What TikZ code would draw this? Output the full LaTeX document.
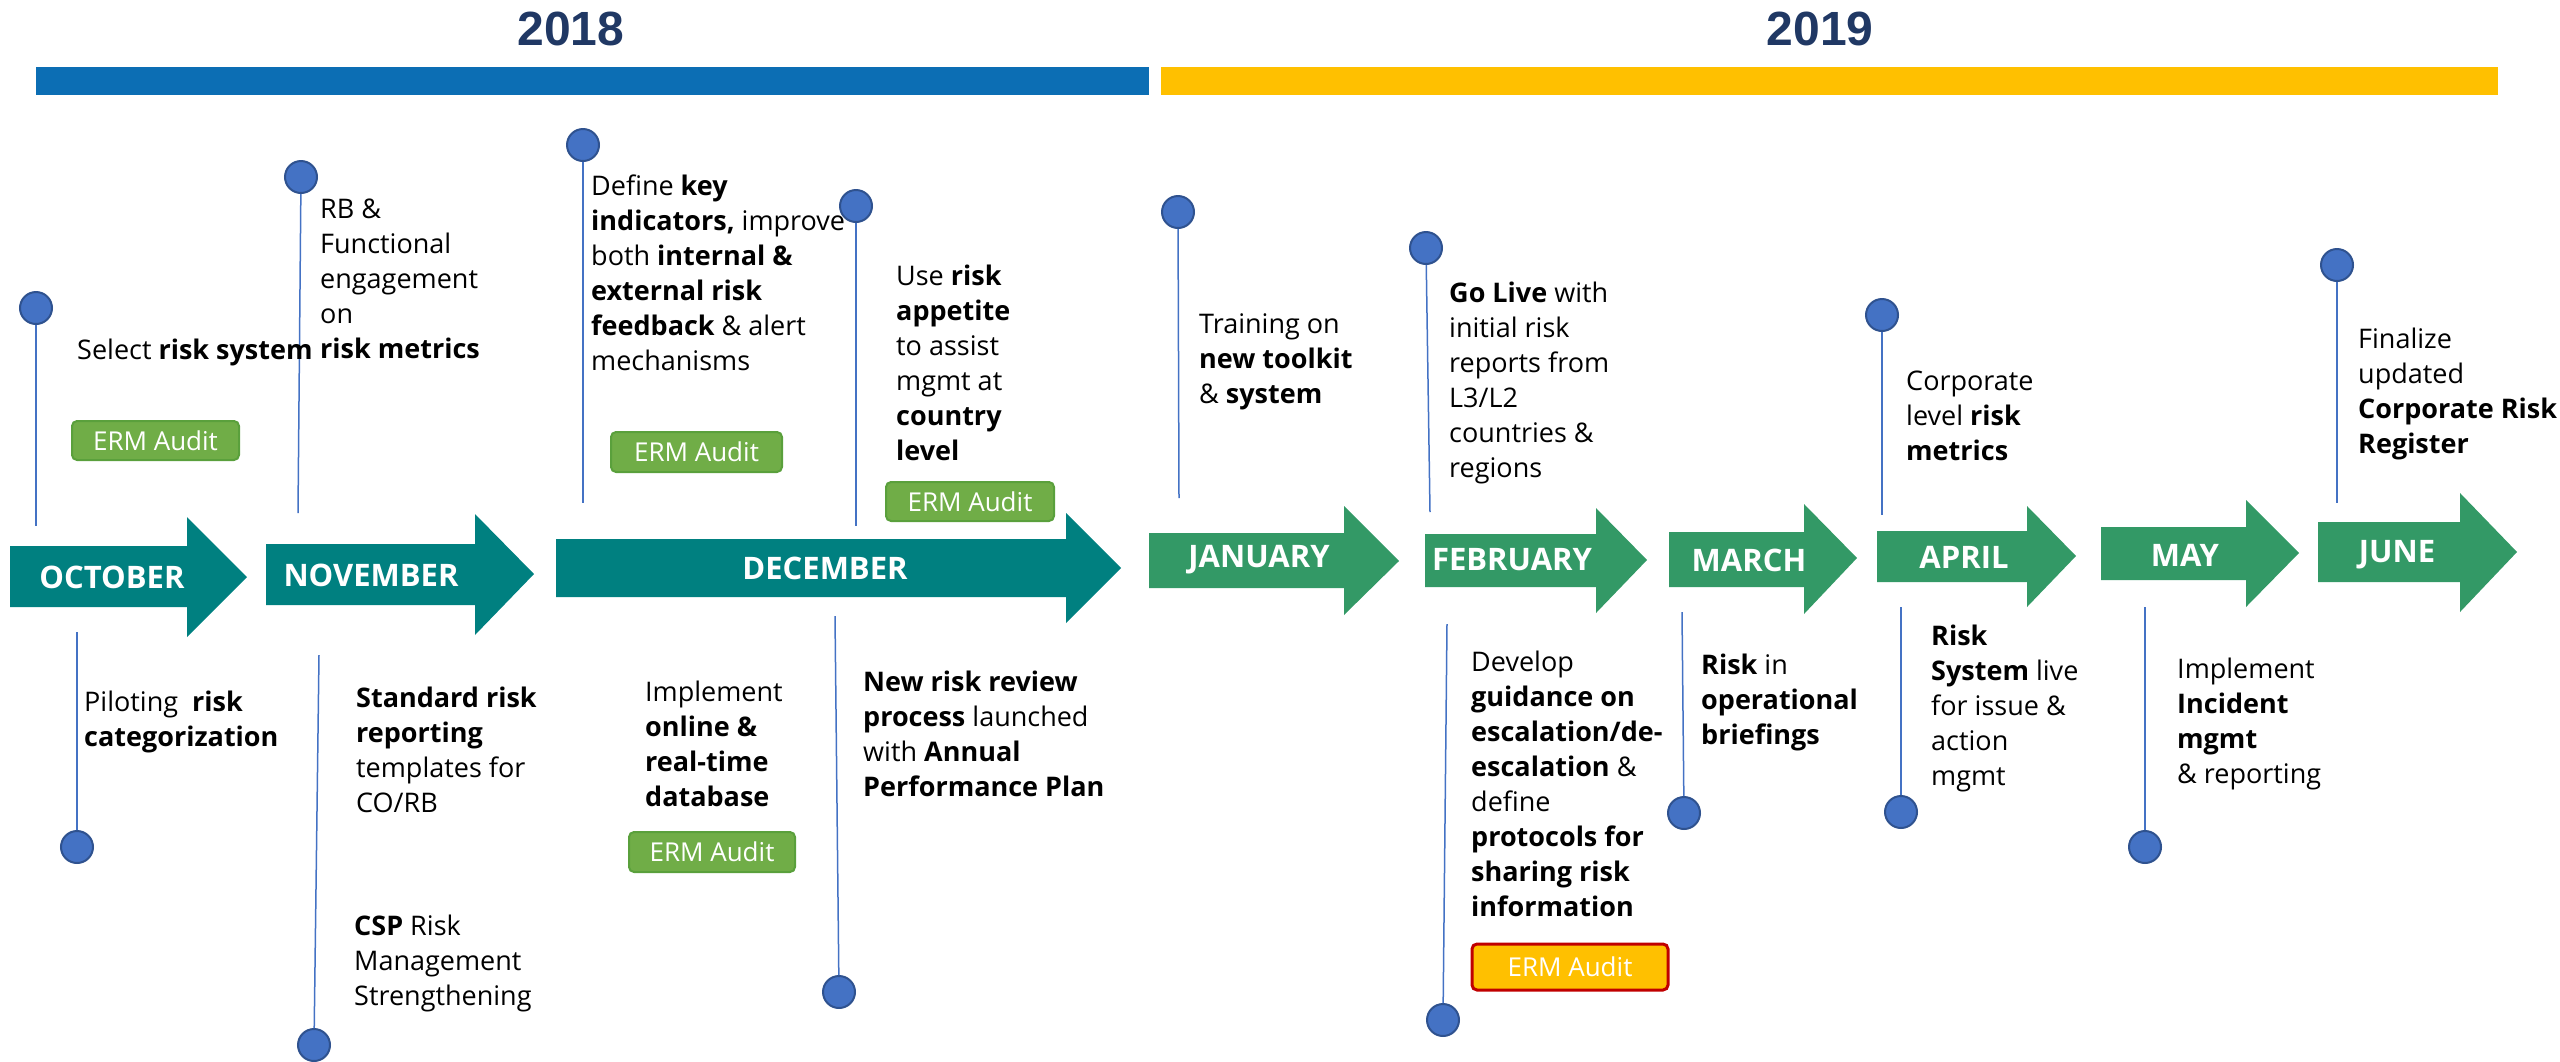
\documentclass[tikz,border=0pt]{standalone}
\usepackage{fontspec}
\setmainfont{Open Sans}
\newfontfamily\yearfont{Liberation Sans}
\definecolor{teal1}{RGB}{0,128,128}
\definecolor{green1}{RGB}{51,153,102}
\definecolor{barblue}{RGB}{12,110,180}
\definecolor{baryellow}{RGB}{255,192,0}
\definecolor{navy}{RGB}{32,56,100}
\definecolor{dotblue}{RGB}{68,114,196}
\definecolor{dotedge}{RGB}{47,82,143}
\definecolor{ermgreen}{RGB}{112,173,71}
\definecolor{ermedge}{RGB}{90,160,60}
\definecolor{ermred}{RGB}{192,0,0}
\begin{document}
\begin{tikzpicture}[x=1pt,y=-1pt,
  txt/.style={anchor=base west, align=left, inner sep=0pt, font=\fontsize{27}{35}\selectfont},
  month/.style={font=\bfseries\fontsize{31}{37}\selectfont, text=white, inner sep=0pt},
  year/.style={font=\yearfont\bfseries\fontsize{48}{56}\selectfont, text=navy, inner sep=0pt},
  erm/.style={rounded corners=5pt, fill=ermgreen, draw=ermedge, line width=2pt, text=white,
    font=\fontsize{26}{30}\selectfont, inner sep=0pt},
  ermy/.style={erm, fill=baryellow, draw=ermred, line width=3pt},
  dot/.style={circle, fill=dotblue, draw=dotedge, line width=2pt, minimum size=32pt, inner sep=0pt},
  conn/.style={draw=dotblue, line width=1.5pt}]
\useasboundingbox (0,0) rectangle (2560,1061);

% year bars and titles
\fill[barblue] (36,67) rectangle (1149,95);
\fill[baryellow] (1161,67) rectangle (2498,95);
\node[year] (y2018) at (571,29) {2018};
\node[year] (y2019) at (1820,29) {2019};

% month arrows
\fill[teal1] (10,546) -- (187,546) -- (187,517) -- (247,577) -- (187,637) -- (187,607) -- (10,607) -- cycle;
\fill[teal1] (266,544) -- (475,544) -- (475,514) -- (534,574) -- (475,635) -- (475,605) -- (266,605) -- cycle;
\fill[teal1] (556,539) -- (1066,539) -- (1066,513) -- (1121,568) -- (1066,623) -- (1066,597) -- (556,597) -- cycle;
\fill[green1] (1149,533) -- (1344,533) -- (1344,506) -- (1399,561) -- (1344,615) -- (1344,588) -- (1149,588) -- cycle;
\fill[green1] (1425,534) -- (1596,534) -- (1596,508) -- (1647,560) -- (1596,613) -- (1596,587) -- (1425,587) -- cycle;
\fill[green1] (1669,532) -- (1804,532) -- (1804,504) -- (1857,558) -- (1804,614) -- (1804,587) -- (1669,587) -- cycle;
\fill[green1] (1877,531) -- (2027,531) -- (2027,506) -- (2076,556) -- (2027,607) -- (2027,582) -- (1877,582) -- cycle;
\fill[green1] (2101,527) -- (2246,527) -- (2246,500) -- (2299,553) -- (2246,607) -- (2246,580) -- (2101,580) -- cycle;
\fill[green1] (2318,522) -- (2460,522) -- (2460,493) -- (2517,552) -- (2460,612) -- (2460,582) -- (2318,582) -- cycle;

\node[month] (moct) at (112,577) {OCTOBER};
\node[month] (mnov) at (371,575) {NOVEMBER};
\node[month] (mdec) at (825,568) {DECEMBER};
\node[month] (mjan) at (1259,560) {JANUARY};
\node[month] (mfeb) at (1512,560) {FEBRUARY};
\node[month] (mmar) at (1749,560) {MARCH};
\node[month] (mapr) at (1964,557) {APRIL};
\node[month] (mmay) at (2185,555) {MAY};
\node[month] (mjun) at (2397,555) {JUNE};

% upper markers
\node[dot] (u1) at (36,308) {};    \coordinate (u1e) at (36,526);
\node[dot] (u2) at (301,177) {};   \coordinate (u2e) at (298,513);
\node[dot] (u3) at (583,145) {};   \coordinate (u3e) at (583,503);
\node[dot] (u4) at (856,206) {};   \coordinate (u4e) at (856,526);
\node[dot] (u5) at (1178,212) {};  \coordinate (u5e) at (1179,498);
\node[dot] (u6) at (1426,248) {};  \coordinate (u6e) at (1430,512);
\node[dot] (u7) at (1882,315) {};  \coordinate (u7e) at (1882,515);
\node[dot] (u8) at (2337,265) {};  \coordinate (u8e) at (2337,503);
\foreach \i in {1,...,8} \draw[conn] (u\i) -- (u\i e);

% lower markers
\coordinate (l1s) at (77,632);    \node[dot] (l1) at (77,847) {};
\coordinate (l2s) at (319,655);   \node[dot] (l2) at (314,1045) {};
\coordinate (l3s) at (835,616);   \node[dot] (l3) at (839,992) {};
\coordinate (l4s) at (1447,624);  \node[dot] (l4) at (1443,1020) {};
\coordinate (l5s) at (1682,612);  \node[dot] (l5) at (1684,813) {};
\coordinate (l6s) at (1901,607);  \node[dot] (l6) at (1901,812) {};
\coordinate (l7s) at (2145,607);  \node[dot] (l7) at (2145,847) {};
\foreach \i in {1,...,7} \draw[conn] (l\i s) -- (l\i);

% upper texts (anchor = baseline of last line)
\node[txt] (t1) at (77,359) {Select \textbf{risk system}};
\node[txt] (t2) at (320,358) {RB \&\\Functional\\engagement\\on\\\textbf{risk metrics}};
\node[txt] (t3) at (591,370) {Define \textbf{key}\\\textbf{indicators,} improve\\both \textbf{internal \&}\\\textbf{external risk}\\\textbf{feedback} \& alert\\mechanisms};
\node[txt] (t4) at (896,460) {Use \textbf{risk}\\\textbf{appetite}\\to assist\\mgmt at\\\textbf{country}\\\textbf{level}};
\node[txt] (t5) at (1199,403) {Training on\\\textbf{new toolkit}\\\& \textbf{system}};
\node[txt] (t6) at (1449,477) {\textbf{Go Live} with\\initial risk\\reports from\\L3/L2\\countries \&\\regions};
\node[txt] (t7) at (1906,460) {Corporate\\level \textbf{risk}\\\textbf{metrics}};
\node[txt] (t8) at (2358,453) {Finalize\\updated\\\textbf{Corporate Risk}\\\textbf{Register}};

% lower texts
\node[txt] (b1) at (84,746) {Piloting\ \ \textbf{risk}\\\textbf{categorization}};
\node[txt] (b2) at (356,812) {\textbf{Standard risk}\\\textbf{reporting}\\templates for\\CO/RB};
\node[txt] (b3) at (354,1005) {\textbf{CSP} Risk\\Management\\Strengthening};
\node[txt] (b4) at (645,806) {Implement\\\textbf{online \&}\\\textbf{real-time}\\\textbf{database}};
\node[txt] (b5) at (863,796) {\textbf{New risk review}\\\textbf{process} launched\\with \textbf{Annual}\\\textbf{Performance Plan}};
\node[txt] (b6) at (1471,916) {Develop\\\textbf{guidance on}\\\textbf{escalation/de-}\\\textbf{escalation} \&\\define\\\textbf{protocols for}\\\textbf{sharing risk}\\\textbf{information}};
\node[txt] (b7) at (1701,744) {\textbf{Risk} in\\\textbf{operational}\\\textbf{briefings}};
\node[txt] (b8) at (1931,785) {\textbf{Risk}\\\textbf{System} live\\for issue \&\\action\\mgmt};
\node[txt] (b9) at (2177,783) {Implement\\\textbf{Incident}\\\textbf{mgmt}\\\& reporting};

% ERM audit badges
\node[erm, minimum width=167pt, minimum height=39pt] (e1) at (155.5,440.5) {ERM Audit};
\node[erm, minimum width=171pt, minimum height=40pt] (e2) at (696.5,452) {ERM Audit};
\node[erm, minimum width=168pt, minimum height=39pt] (e3) at (970,501.5) {ERM Audit};
\node[erm, minimum width=166pt, minimum height=40pt] (e4) at (712,852) {ERM Audit};
\node[ermy, minimum width=196pt, minimum height=46pt] (e5) at (1570,967) {ERM Audit};
\end{tikzpicture}
\end{document}
